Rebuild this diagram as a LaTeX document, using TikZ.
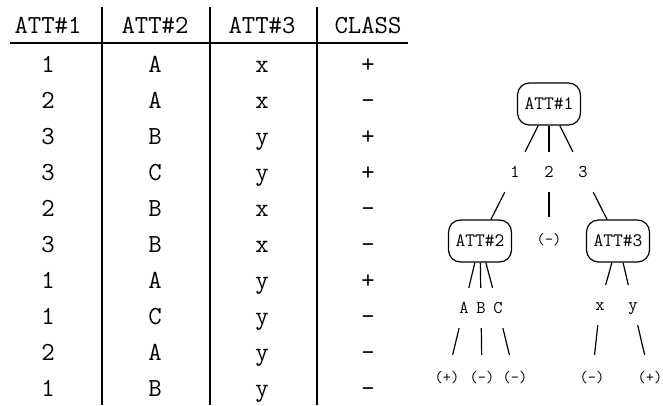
\documentclass[tikz,border=0pt]{standalone}
\usepackage{fontspec}
\begin{document}
\begin{tikzpicture}[x=1pt,y=-1pt,
  cell/.style={font=\fontsize{26}{30}\selectfont\ttfamily,inner sep=0pt,text height=16pt,text depth=0pt},
  test/.style={draw,rounded corners=12pt,line width=1.2pt,minimum width=63pt,minimum height=42pt,inner sep=0pt,font=\fontsize{19}{22}\selectfont\ttfamily},
  val/.style={minimum width=26pt,minimum height=40pt,inner sep=0pt,text height=11pt,text depth=0pt,font=\fontsize{18}{21}\selectfont\ttfamily},
  leaf/.style={minimum width=26pt,minimum height=46pt,inner sep=0pt,text height=12pt,text depth=4pt,font=\fontsize{16}{19}\selectfont\ttfamily},
  branch/.style={line width=1.2pt}]
\useasboundingbox (0,0) rectangle (663,405);

% table
\draw[line width=1.4pt] (10,43) -- (408,43);
\draw[line width=1.4pt] (102,7) -- (102,405);
\draw[line width=1.4pt] (210,7) -- (210,405);
\draw[line width=1.4pt] (317,7) -- (317,405);

\node[cell] (h1) at (48,25) {ATT\#1};
\node[cell] (h2) at (155,25) {ATT\#2};
\node[cell] (h3) at (262,25) {ATT\#3};
\node[cell] (h4) at (368,25) {CLASS};

\node[cell] (r1a) at (48,64) {1};  \node[cell] (r1b) at (155,64) {A};  \node[cell] (r1c) at (262,64) {x};  \node[cell] (r1d) at (368,64) {+};
\node[cell] (r2a) at (48,100) {2}; \node[cell] (r2b) at (155,100) {A}; \node[cell] (r2c) at (262,100) {x}; \node[cell] (r2d) at (368,100) {-};
\node[cell] (r3a) at (48,136) {3}; \node[cell] (r3b) at (155,136) {B}; \node[cell] (r3c) at (262,136) {y}; \node[cell] (r3d) at (368,136) {+};
\node[cell] (r4a) at (48,172) {3}; \node[cell] (r4b) at (155,172) {C}; \node[cell] (r4c) at (262,172) {y}; \node[cell] (r4d) at (368,172) {+};
\node[cell] (r5a) at (48,208) {2}; \node[cell] (r5b) at (155,208) {B}; \node[cell] (r5c) at (262,208) {x}; \node[cell] (r5d) at (368,208) {-};
\node[cell] (r6a) at (48,244) {3}; \node[cell] (r6b) at (155,244) {B}; \node[cell] (r6c) at (262,244) {x}; \node[cell] (r6d) at (368,244) {-};
\node[cell] (r7a) at (48,280) {1}; \node[cell] (r7b) at (155,280) {A}; \node[cell] (r7c) at (262,280) {y}; \node[cell] (r7d) at (368,280) {+};
\node[cell] (r8a) at (48,316) {1}; \node[cell] (r8b) at (155,316) {C}; \node[cell] (r8c) at (262,316) {y}; \node[cell] (r8d) at (368,316) {-};
\node[cell] (r9a) at (48,352) {2}; \node[cell] (r9b) at (155,352) {A}; \node[cell] (r9c) at (262,352) {y}; \node[cell] (r9d) at (368,352) {-};
\node[cell] (r10a) at (48,388) {1}; \node[cell] (r10b) at (155,388) {B}; \node[cell] (r10c) at (262,388) {y}; \node[cell] (r10d) at (368,388) {-};

% tree
\node[test] (att1) at (549,104) {ATT\#1};
\node[val] (v1) at (515,172) {1};
\node[val] (v2) at (549,172) {2};
\node[val] (v3) at (583,172) {3};
\node[test] (att2) at (480,241) {ATT\#2};
\node[leaf] (l2) at (549,240) {(-)};
\node[test] (att3) at (618,241) {ATT\#3};
\node[val] (vA) at (464,308) {A};
\node[val] (vB) at (481,308) {B};
\node[val] (vC) at (498,308) {C};
\node[val] (vx) at (600,305) {x};
\node[val] (vy) at (633,305) {y};
\node[leaf] (lA) at (447,378) {(+)};
\node[leaf] (lB) at (482,378) {(-)};
\node[leaf] (lC) at (515,378) {(-)};
\node[leaf] (lx) at (592,378) {(-)};
\node[leaf] (ly) at (650,378) {(+)};

\draw[branch] (att1) -- (v1);
\draw[branch] (att1) -- (v2);
\draw[branch] (att1) -- (v3);
\draw[branch] (v1) -- (att2);
\draw[branch] (v2) -- (l2);
\draw[branch] (v3) -- (att3);
\draw[branch] (att2) -- (vA);
\draw[branch] (att2) -- (vB);
\draw[branch] (att2) -- (vC);
\draw[branch] (att3) -- (vx);
\draw[branch] (att3) -- (vy);
\draw[branch] (vA) -- (lA);
\draw[branch] (vB) -- (lB);
\draw[branch] (vC) -- (lC);
\draw[branch] (vx) -- (lx);
\draw[branch] (vy) -- (ly);
\end{tikzpicture}
\end{document}
